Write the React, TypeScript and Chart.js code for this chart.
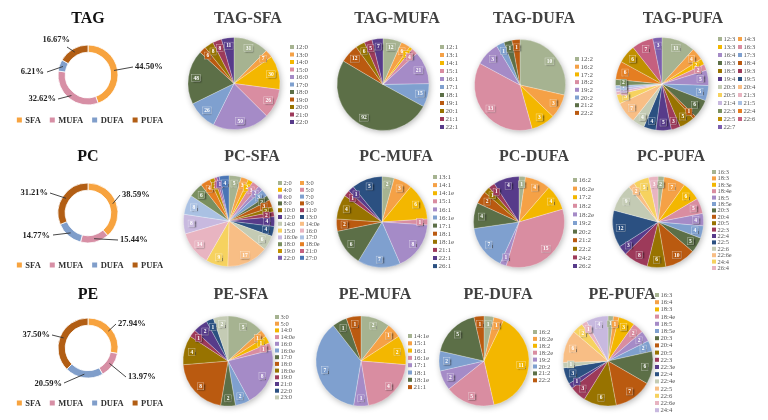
import React, { useEffect, useRef } from "react";
import { Chart, registerables } from "chart.js";

Chart.register(...registerables);

const W = 768;
const H = 420;
const SERIF = '"Liberation Serif", "Times New Roman", serif';

// ---- lipid class composition (%) ----
const CLASS_NAMES = ["SFA", "MUFA", "DUFA", "PUFA"];
const CLASS_COLORS = ["#F7A33F", "#D78FA5", "#809ECA", "#B25E14"];
const TAG_SHARE = [44.5, 32.62, 6.21, 16.67];
const PC_SHARE = [38.59, 15.44, 14.77, 31.21];
const PE_SHARE = [27.94, 13.97, 20.59, 37.5];

// ---- number of species per fatty acyl chain ----
const TAG_SFA_LABELS = ["12:0", "13:0", "14:0", "15:0", "16:0", "17:0", "18:0", "19:0", "20:0", "21:0", "22:0"];
const TAG_SFA = [31, 7, 30, 26, 50, 26, 48, 6, 8, 8, 11];
const TAG_MUFA_LABELS = ["12:1", "13:1", "14:1", "15:1", "16:1", "17:1", "18:1", "19:1", "20:1", "21:1", "22:1"];
const TAG_MUFA = [12, 6, 2, 4, 21, 15, 92, 12, 6, 5, 7];
const TAG_DUFA_LABELS = ["12:2", "16:2", "17:2", "18:2", "19:2", "20:2", "21:2", "22:2"];
const TAG_DUFA = [10, 3, 3, 13, 3, 1, 1, 1];
const TAG_PUFA_LABELS = ["12:3", "14:3", "13:3", "16:3", "16:4", "17:3", "18:3", "18:4", "18:5", "19:3", "19:4", "19:5", "20:3", "20:4", "20:5", "21:3", "21:4", "21:5", "22:3", "22:4", "22:5", "22:6", "22:7"];
const TAG_PUFA = [11, 4, 2, 2, 5, 5, 6, 1, 5, 3, 5, 4, 4, 7, 3, 1, 1, 1, 2, 6, 6, 7, 3];

const PC_SFA_LABELS = ["2:0", "3:0", "4:0", "5:0", "6:0", "7:0", "8:0", "9:0", "10:0", "11:0", "12:0", "13:0", "14:0", "14:0e", "15:0", "16:0", "16:0e", "17:0", "18:0", "18:0e", "19:0", "21:0", "22:0", "27:0"];
const PC_SFA = [5, 3, 2, 3, 2, 3, 2, 3, 2, 2, 4, 4, 6, 17, 9, 14, 8, 8, 6, 4, 2, 1, 1, 4];
const PC_MUFA_LABELS = ["13:1", "14:1", "14:1e", "15:1", "16:1", "16:1e", "17:1", "18:1", "18:1e", "21:1", "22:1", "26:1"];
const PC_MUFA = [2, 3, 6, 1, 8, 7, 6, 2, 4, 1, 1, 5];
const PC_DUFA_LABELS = ["16:2", "16:2e", "17:2", "18:2", "18:2e", "19:2", "20:2", "21:2", "22:2", "24:2", "26:2"];
const PC_DUFA = [1, 4, 4, 15, 1, 7, 4, 2, 1, 1, 4];
const PC_PUFA_LABELS = ["16:3", "18:3", "18:3e", "18:4e", "18:5", "18:5e", "20:3", "20:4", "20:5", "22:3", "22:4", "22:5", "22:6", "22:6e", "24:4", "26:4"];
const PC_PUFA = [2, 7, 6, 5, 4, 4, 5, 10, 6, 8, 3, 12, 9, 2, 5, 3];

const PE_SFA_LABELS = ["3:0", "5:0", "14:0", "14:0e", "16:0", "16:0e", "17:0", "18:0", "18:0e", "19:0", "21:0", "22:0", "23:0"];
const PE_SFA = [5, 1, 1, 1, 8, 2, 2, 8, 4, 1, 2, 1, 2];
const PE_MUFA_LABELS = ["14:1e", "15:1", "16:1", "16:1e", "17:1", "18:1", "18:1e", "21:1"];
const PE_MUFA = [2, 1, 2, 4, 1, 7, 1, 1];
const PE_DUFA_LABELS = ["16:2", "16:2e", "18:2", "18:2e", "19:2", "20:2", "21:2", "22:2"];
const PE_DUFA = [1, 1, 11, 5, 2, 2, 5, 1];
const PE_PUFA_LABELS = ["16:3", "16:4", "18:3", "18:4e", "18:5", "18:5e", "20:3", "20:4", "20:5", "22:3", "22:3e", "22:4", "22:4e", "22:5", "22:6", "22:6e", "24:4"];
const PE_PUFA = [1, 1, 3, 2, 2, 2, 6, 7, 6, 3, 1, 3, 1, 6, 2, 1, 4];

// slice colour cycle: accents, darker accents, light tints, medium shades
const PALETTE = [
  "#A6B391", "#F5A146", "#F3B700", "#D98DA1", "#A58BC7", "#7FA0CF",
  "#5C6F47", "#BA5A10", "#987300", "#9D3A5A", "#573B8A", "#2B5081",
  "#C4CBB4", "#F8BE85", "#F6D25F", "#E8B4C1", "#C8B9DF", "#AAC1E3",
  "#7A8F60", "#E57E22", "#C09000", "#C5607F", "#7C5FAE", "#4A75B5",
];

type LegendSpec = { x: number; y: number; row: number; cols: number; colW: number; size: number };
type PieSpec = {
  title: string; labels: string[]; values: number[];
  cx: number; cy: number; r: number; tx: number; ty: number; lg: LegendSpec;
};
type RingLabel = { tx: number; ty: number; align: "left" | "right"; lx: number; ly: number };
type RingSpec = {
  title: string; values: number[]; cx: number; cy: number; ty: number; legendY: number; text: RingLabel[];
};

const lg = (x: number, y: number, row: number, cols = 1, colW = 0, size = 7): LegendSpec => ({ x, y, row, cols, colW, size });

const PIES: PieSpec[] = [
  { title: "TAG-SFA", labels: TAG_SFA_LABELS, values: TAG_SFA, cx: 234, cy: 83.5, r: 46, tx: 248, ty: 18.5, lg: lg(290, 47, 7.5) },
  { title: "TAG-MUFA", labels: TAG_MUFA_LABELS, values: TAG_MUFA, cx: 383, cy: 84.5, r: 46, tx: 397, ty: 18.5, lg: lg(440, 47, 8) },
  { title: "TAG-DUFA", labels: TAG_DUFA_LABELS, values: TAG_DUFA, cx: 520, cy: 85, r: 45.5, tx: 534, ty: 18.5, lg: lg(575, 59, 7.7) },
  { title: "TAG-PUFA", labels: TAG_PUFA_LABELS, values: TAG_PUFA, cx: 662, cy: 84, r: 46.5, tx: 683, ty: 18.5, lg: lg(718, 39, 8, 2, 20, 6.6) },
  { title: "PC-SFA", labels: PC_SFA_LABELS, values: PC_SFA, cx: 229, cy: 221, r: 45.5, tx: 252, ty: 157, lg: lg(278, 183, 6.8, 2, 22, 6.4) },
  { title: "PC-MUFA", labels: PC_MUFA_LABELS, values: PC_MUFA, cx: 382, cy: 222, r: 45.5, tx: 396, ty: 157, lg: lg(433, 177, 8.1) },
  { title: "PC-DUFA", labels: PC_DUFA_LABELS, values: PC_DUFA, cx: 519, cy: 222, r: 45.5, tx: 534, ty: 157, lg: lg(573, 180, 8.6) },
  { title: "PC-PUFA", labels: PC_PUFA_LABELS, values: PC_PUFA, cx: 658, cy: 222, r: 45.5, tx: 671, ty: 157, lg: lg(712, 172, 6.4, 1, 0, 6.4) },
  { title: "PE-SFA", labels: PE_SFA_LABELS, values: PE_SFA, cx: 228, cy: 361, r: 45, tx: 241, ty: 295, lg: lg(275, 317, 6.7, 1, 0, 6.5) },
  { title: "PE-MUFA", labels: PE_MUFA_LABELS, values: PE_MUFA, cx: 361, cy: 361, r: 45, tx: 375, ty: 295, lg: lg(408, 336, 7.3) },
  { title: "PE-DUFA", labels: PE_DUFA_LABELS, values: PE_DUFA, cx: 484, cy: 361, r: 45, tx: 498, ty: 295, lg: lg(533, 332, 6.9, 1, 0, 6.6) },
  { title: "PE-PUFA", labels: PE_PUFA_LABELS, values: PE_PUFA, cx: 608, cy: 361, r: 45, tx: 622, ty: 295, lg: lg(655, 295, 7.2, 1, 0, 6.6) },
];

const RINGS: RingSpec[] = [
  {
    title: "TAG", values: TAG_SHARE, cx: 88, cy: 75, ty: 19, legendY: 120,
    text: [
      { tx: 47, ty: -8, align: "left", lx: 45, ly: -8 },
      { tx: -32, ty: 24, align: "right", lx: -30, ly: 24 },
      { tx: -44, ty: -3, align: "right", lx: -41, ly: -3 },
      { tx: -18, ty: -35, align: "right", lx: -21, ly: -28 },
    ],
  },
  {
    title: "PC", values: PC_SHARE, cx: 88, cy: 213, ty: 157, legendY: 265,
    text: [
      { tx: 34, ty: -18, align: "left", lx: 32, ly: -18 },
      { tx: 32, ty: 27, align: "left", lx: 30, ly: 27 },
      { tx: -38, ty: 23, align: "right", lx: -35, ly: 22 },
      { tx: -40, ty: -20, align: "right", lx: -38, ly: -20 },
    ],
  },
  {
    title: "PE", values: PE_SHARE, cx: 88, cy: 348, ty: 295, legendY: 403,
    text: [
      { tx: 30, ty: -24, align: "left", lx: 28, ly: -24 },
      { tx: 40, ty: 29, align: "left", lx: 38, ly: 29 },
      { tx: -26, ty: 36, align: "right", lx: -24, ly: 35 },
      { tx: -38, ty: -13, align: "right", lx: -36, ly: -13 },
    ],
  },
];

function padFor(cx: number, cy: number, r: number) {
  return { left: cx - r, right: W - cx - r, top: cy - r, bottom: H - cy - r };
}

function pieChart(canvas: HTMLCanvasElement, p: PieSpec) {
  const colors = p.labels.map((_, i) => PALETTE[i % PALETTE.length]);
  return new Chart(canvas, {
    type: "pie",
    data: {
      labels: p.labels,
      datasets: [{ data: p.values, backgroundColor: colors, borderColor: "rgba(255,255,255,0.5)", borderWidth: 0.5, hoverOffset: 0 }],
    },
    options: {
      responsive: false,
      animation: false,
      events: [],
      radius: p.r,
      layout: { padding: padFor(p.cx, p.cy, p.r) },
      plugins: { legend: { display: false }, tooltip: { enabled: false } },
    } as any,
    plugins: [
      {
        id: "pieDecor",
        beforeDatasetsDraw(chart: any) {
          const ctx = chart.ctx;
          ctx.save();
          ctx.shadowColor = "rgba(0,0,0,0.32)";
          ctx.shadowBlur = 6;
          ctx.shadowOffsetX = 1;
          ctx.shadowOffsetY = 1.5;
          ctx.beginPath();
          ctx.arc(p.cx, p.cy, p.r - 0.5, 0, Math.PI * 2);
          ctx.fillStyle = "#ffffff";
          ctx.fill();
          ctx.restore();
        },
        afterDatasetsDraw(chart: any) {
          const ctx = chart.ctx;
          const meta = chart.getDatasetMeta(0);
          const data = chart.data.datasets[0].data as number[];
          ctx.save();
          ctx.font = `bold 5.5px ${SERIF}`;
          ctx.textAlign = "center";
          ctx.textBaseline = "middle";
          meta.data.forEach((arc: any, i: number) => {
            const { x, y, startAngle, endAngle, outerRadius } = arc.getProps(["x", "y", "startAngle", "endAngle", "outerRadius"], true);
            const a = (startAngle + endAngle) / 2;
            const px = x + Math.cos(a) * outerRadius * 0.83;
            const py = y + Math.sin(a) * outerRadius * 0.83;
            const txt = String(data[i]);
            const w = Math.max(6.5, ctx.measureText(txt).width + 3.5);
            const h = 7;
            ctx.save();
            ctx.shadowColor = "rgba(0,0,0,0.55)";
            ctx.shadowBlur = 1.5;
            ctx.shadowOffsetX = 1;
            ctx.shadowOffsetY = 1;
            ctx.fillStyle = colors[i];
            ctx.fillRect(px - w / 2, py - h / 2, w, h);
            ctx.restore();
            ctx.strokeStyle = "rgba(255,255,255,0.55)";
            ctx.lineWidth = 0.5;
            ctx.strokeRect(px - w / 2, py - h / 2, w, h);
            ctx.fillStyle = "#ffffff";
            ctx.fillText(txt, px, py + 0.3);
          });
          ctx.restore();
        },
        afterDraw(chart: any) {
          const ctx = chart.ctx;
          ctx.save();
          ctx.font = `bold 16px ${SERIF}`;
          ctx.fillStyle = "#404040";
          ctx.textAlign = "center";
          ctx.textBaseline = "middle";
          ctx.fillText(p.title, p.tx, p.ty);
          const L = p.lg;
          ctx.font = `${L.size}px ${SERIF}`;
          ctx.textAlign = "left";
          p.labels.forEach((lab, i) => {
            const col = i % L.cols;
            const row = Math.floor(i / L.cols);
            const x = L.x + col * L.colW;
            const y = L.y + row * L.row;
            ctx.fillStyle = colors[i];
            ctx.fillRect(x, y - 2, 4, 4);
            ctx.fillStyle = "#555555";
            ctx.fillText(lab, x + 5.5, y + 0.3);
          });
          ctx.restore();
        },
      },
    ],
  });
}

function ringChart(canvas: HTMLCanvasElement, s: RingSpec) {
  const ro = 30;
  return new Chart(canvas, {
    type: "doughnut",
    data: {
      labels: CLASS_NAMES,
      datasets: [{ data: s.values, backgroundColor: CLASS_COLORS, borderColor: "#ffffff", borderWidth: 0.8, hoverOffset: 0 }],
    },
    options: {
      responsive: false,
      animation: false,
      events: [],
      radius: ro,
      cutout: "76%",
      layout: { padding: padFor(s.cx, s.cy, ro) },
      plugins: { legend: { display: false }, tooltip: { enabled: false } },
    } as any,
    plugins: [
      {
        id: "ringDecor",
        afterDraw(chart: any) {
          const ctx = chart.ctx;
          const meta = chart.getDatasetMeta(0);
          const data = chart.data.datasets[0].data as number[];
          ctx.save();
          ctx.font = `bold 16px ${SERIF}`;
          ctx.fillStyle = "#111111";
          ctx.textAlign = "center";
          ctx.textBaseline = "middle";
          ctx.fillText(s.title, s.cx, s.ty);

          ctx.font = `bold 8.5px ${SERIF}`;
          meta.data.forEach((arc: any, i: number) => {
            const { x, y, startAngle, endAngle, outerRadius, innerRadius } = arc.getProps(["x", "y", "startAngle", "endAngle", "outerRadius", "innerRadius"], true);
            const a = (startAngle + endAngle) / 2;
            const rm = (outerRadius + innerRadius) / 2;
            const t = s.text[i];
            ctx.strokeStyle = "#333333";
            ctx.lineWidth = 0.9;
            ctx.beginPath();
            ctx.moveTo(x + Math.cos(a) * rm, y + Math.sin(a) * rm);
            ctx.lineTo(x + t.lx, y + t.ly);
            ctx.stroke();
            ctx.fillStyle = "#222222";
            ctx.textAlign = t.align;
            ctx.fillText(`${data[i].toFixed(2)}%`, x + t.tx, y + t.ty);
          });

          // class legend under the ring
          const gapBox = 3.5, box = 5, gapItem = 9;
          const widths = CLASS_NAMES.map((n) => ctx.measureText(n).width);
          const total = widths.reduce((acc, w) => acc + w + box + gapBox, 0) + gapItem * (CLASS_NAMES.length - 1);
          let x0 = s.cx + 2 - total / 2;
          ctx.textAlign = "left";
          CLASS_NAMES.forEach((n, i) => {
            ctx.fillStyle = CLASS_COLORS[i];
            ctx.fillRect(x0, s.legendY - box / 2, box, box);
            ctx.fillStyle = "#333333";
            ctx.fillText(n, x0 + box + gapBox, s.legendY + 0.5);
            x0 += box + gapBox + widths[i] + gapItem;
          });
          ctx.restore();
        },
      },
    ],
  });
}

export default function App() {
  const refs = useRef<(HTMLCanvasElement | null)[]>([]);
  const total = RINGS.length + PIES.length;

  useEffect(() => {
    const charts: Chart[] = [];
    RINGS.forEach((s, i) => {
      const c = refs.current[i];
      if (c) charts.push(ringChart(c, s));
    });
    PIES.forEach((p, i) => {
      const c = refs.current[RINGS.length + i];
      if (c) charts.push(pieChart(c, p));
    });
    return () => charts.forEach((c) => c.destroy());
  }, []);

  return (
    <div style={{ position: "absolute", left: 0, top: 0, width: W, height: H, background: "#ffffff", overflow: "hidden" }}>
      {Array.from({ length: total }, (_, i) => (
        <canvas
          key={i}
          ref={(el) => {
            refs.current[i] = el;
          }}
          width={W}
          height={H}
          style={{ position: "absolute", left: 0, top: 0, width: W, height: H }}
        />
      ))}
    </div>
  );
}
